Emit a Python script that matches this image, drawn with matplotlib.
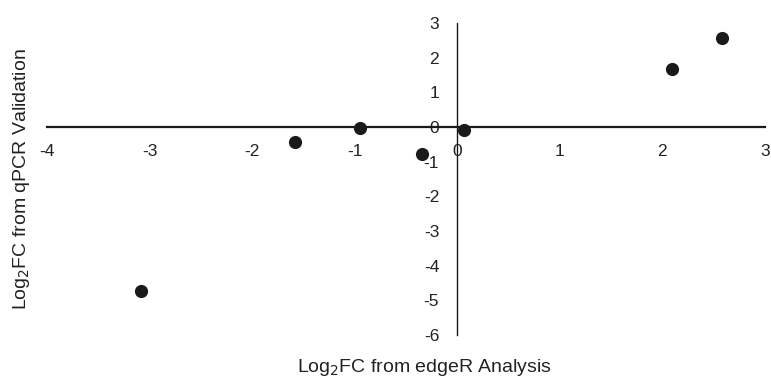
import matplotlib.pyplot as plt

plt.rcParams['font.family'] = ['Liberation Sans', 'DejaVu Sans']
plt.rcParams['axes.unicode_minus'] = False

# Log2 fold changes: edgeR (x) vs qPCR validation (y)
edger_fc = [-3.08, -1.58, -0.95, -0.34, 0.07, 2.09, 2.58]
qpcr_fc = [-4.73, -0.42, -0.04, -0.77, -0.09, 1.66, 2.57]

x_ticks = [-4, -3, -2, -1, 0, 1, 2, 3]
y_ticks = [-6, -5, -4, -3, -2, -1, 0, 1, 2, 3]

fig = plt.figure(figsize=(7.71, 3.76), dpi=100)
ax = fig.add_axes([47 / 771, 41 / 376, 718 / 771, 312 / 376])

ax.scatter(edger_fc, qpcr_fc, s=90, color='#1a1a1a', zorder=3, linewidths=0)

ax.set_xlim(-4, 3)
ax.set_ylim(-6, 3)

ax.spines['left'].set_position(('data', 0))
ax.spines['bottom'].set_position(('data', 0))
ax.spines['right'].set_visible(False)
ax.spines['top'].set_visible(False)
ax.spines['bottom'].set_linewidth(1.6)
ax.spines['left'].set_linewidth(1.0)
ax.spines['bottom'].set_color('#1a1a1a')
ax.spines['left'].set_color('#1a1a1a')

ax.set_xticks(x_ticks)
ax.set_yticks(y_ticks)
ax.tick_params(axis='x', length=0, pad=12, labelsize=12.5, colors='#222222')
ax.tick_params(axis='y', length=0, pad=13, labelsize=12.5, colors='#222222')

fig.text(424 / 771, 1 - 367 / 376, 'Log$_2$FC from edgeR Analysis',
         ha='center', va='center', fontsize=14, color='#222222')
fig.text(22 / 771, 1 - 179 / 376, 'Log$_2$FC from qPCR Validation',
         ha='center', va='center', rotation=90, fontsize=14, color='#222222')

fig.savefig('out.png', dpi=100)
